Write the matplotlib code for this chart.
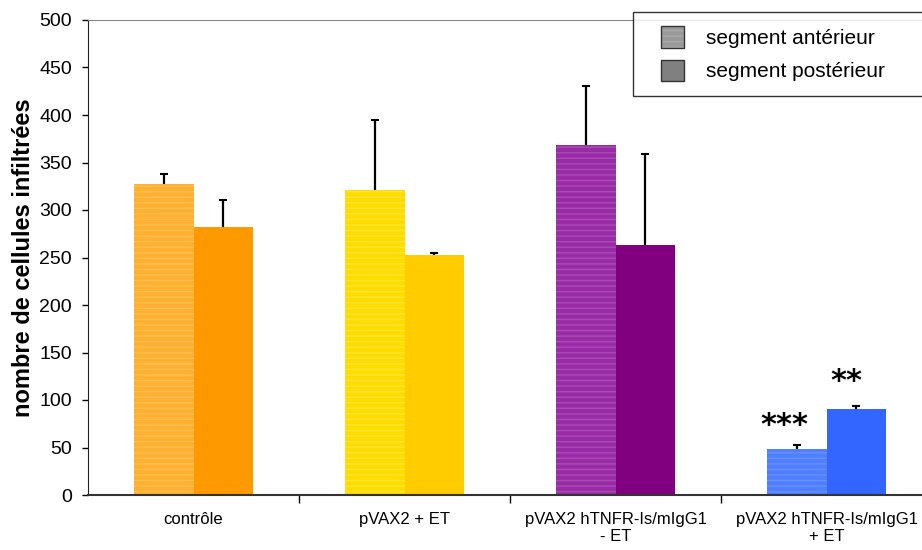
import matplotlib.pyplot as plt
import numpy as np
from matplotlib.legend_handler import HandlerBase
from matplotlib.patches import Rectangle

plt.rcParams["font.family"] = ["Liberation Sans", "DejaVu Sans"]
plt.rcParams["hatch.linewidth"] = 1.0

categories = ["contrôle", "pVAX2 + ET", "pVAX2 hTNFR-Is/mIgG1\n- ET", "pVAX2 hTNFR-Is/mIgG1\n+ ET"]
anterieur = [327, 321, 368, 48]
anterieur_err = [11, 74, 62, 5]
posterieur = [282, 253, 263, 91]
posterieur_err = [29, 2, 96, 3]
stars_ant = ["", "", "", "***"]
stars_post = ["", "", "", "**"]

col_ant = ["#FFB030", "#FFDC00", "#9A2BA6", "#4F7FFF"]
hatch_ant = ["#FFC050", "#FFE533", "#A94CB4", "#6690FF"]
col_post = ["#FF9900", "#FFCC00", "#800080", "#3366FF"]


class StripedBox(HandlerBase):
    """carré de légende rayé + bord foncé, calé à droite de la zone du handle"""

    def __init__(self, face, stripes, hatch, size):
        super().__init__()
        self.face, self.stripes, self.hatch, self.size = face, stripes, hatch, size

    def create_artists(self, legend, orig_handle, xdescent, ydescent, width, height, fontsize, trans):
        w = self.size * fontsize
        x0 = -xdescent + width - w
        fill = Rectangle((x0, -ydescent), w, height, facecolor=self.face,
                         edgecolor=self.stripes, hatch=self.hatch, linewidth=0, transform=trans)
        edge = Rectangle((x0, -ydescent), w, height, facecolor="none",
                         edgecolor="#333333", linewidth=1, transform=trans)
        return [fill, edge]


fig = plt.figure(figsize=(9.22, 5.5), dpi=100)
ax = fig.add_axes([88 / 922, 55 / 550, 844 / 922, 475 / 550])

x = np.arange(len(categories))
w = 0.284
for i in x:
    ax.bar(i - w / 2, anterieur[i], w, color=col_ant[i], edgecolor=hatch_ant[i],
           linewidth=0, hatch="---", zorder=2)
    ax.bar(i + w / 2, posterieur[i], w, color=col_post[i], linewidth=0, zorder=2)

# barres d'erreur vers le haut seulement
for xs, vals, errs in [(x - w / 2, anterieur, anterieur_err), (x + w / 2, posterieur, posterieur_err)]:
    tops = np.array(vals) + np.array(errs)
    ax.vlines(xs, vals, tops, color="black", linewidth=1.6, zorder=3)
    ax.plot(xs, tops, ls="none", marker="_", markersize=6, mew=1.5, color="black", zorder=3)

for i in x:
    if stars_ant[i]:
        ax.annotate(stars_ant[i], (i - w / 2, anterieur[i] + anterieur_err[i]),
                    xytext=(-9, 8), textcoords="offset points", family="DejaVu Sans",
                    ha="center", va="baseline", fontsize=22, fontweight="bold")
    if stars_post[i]:
        ax.annotate(stars_post[i], (i + w / 2, posterieur[i] + posterieur_err[i]),
                    xytext=(-7, 11), textcoords="offset points", family="DejaVu Sans",
                    ha="center", va="baseline", fontsize=22, fontweight="bold")

ax.set_xlim(-0.5, 3.5)
ax.set_ylim(0, 500)
ax.set_yticks(range(0, 501, 50))
ax.tick_params(axis="y", labelsize=14, direction="out", length=4.5, width=1, pad=7)
ax.set_xticks(x)
ax.set_xticklabels(categories, fontsize=12)
ax.tick_params(axis="x", length=0, pad=12)
ax.set_xticks(np.arange(0.5, 3.5, 1), minor=True)
ax.tick_params(axis="x", which="minor", length=6, width=1, direction="out")
ax.set_ylabel("nombre de cellules infiltrées", fontsize=17, fontweight="bold", labelpad=3)

ax.spines["left"].set_color("#222222")
ax.spines["bottom"].set_color("#333333")
ax.spines["bottom"].set_linewidth(1.5)
ax.spines["top"].set_color("#888888")
ax.spines["right"].set_visible(False)

h1 = Rectangle((0, 0), 1, 1)
h2 = Rectangle((0, 0), 1, 1)
leg = fig.legend([h1, h2], ["segment antérieur", "segment postérieur"],
                 handler_map={h1: StripedBox("#999999", "#AAAAAA", "---", 1.15),
                              h2: StripedBox("#808080", "#808080", None, 1.15)},
                 loc="upper left", bbox_to_anchor=(633 / 922, 1 - 17 / 550, 0.4, 0.01),
                 mode="expand", fontsize=15, frameon=True, fancybox=False, borderpad=0.72,
                 handlelength=1.75, handleheight=1.2, handletextpad=1.05,
                 labelspacing=0.55, borderaxespad=0)
leg.get_frame().set_edgecolor("black")
leg.get_frame().set_linewidth(1)

fig.savefig("out.png", dpi=100)
